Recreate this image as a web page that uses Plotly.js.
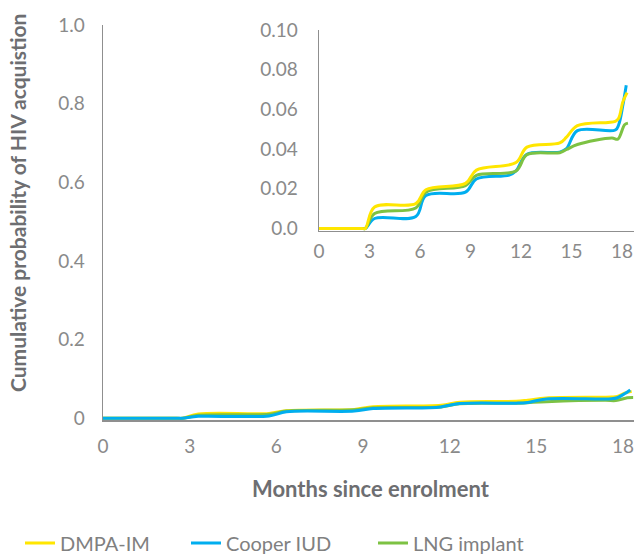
<!DOCTYPE html>
<html>
<head>
<meta charset="utf-8">
<script src="https://cdn.plot.ly/plotly-3.0.1.min.js"></script>
<style>html,body{margin:0;padding:0;background:#fff;}#chart{width:637px;height:554px;}</style>
</head>
<body>
<div id="chart"></div>
<script>
// Months since enrolment and cumulative probability
const monthsDMPA = [0, 2.55, 2.75, 3.3, 5.75, 6.35, 8.7, 9.35, 11.7, 12.35, 14.3, 14.7, 15.35, 17.6, 17.8, 18.05, 18.3];
const probDMPA   = [0, 0, 0, 0.0108, 0.0125, 0.0195, 0.0227, 0.0294, 0.0332, 0.0410, 0.0431, 0.0460, 0.0518, 0.0540, 0.0556, 0.0639, 0.0685];

const monthsIUD = [0, 2.55, 2.75, 3.3, 5.75, 6.35, 8.7, 9.35, 11.3, 11.7, 12.35, 14.3, 14.7, 15.35, 17.6, 17.8, 18.05, 18.25];
const probIUD   = [0, 0, 0, 0.0050, 0.0060, 0.0166, 0.0183, 0.0249, 0.0269, 0.0290, 0.0374, 0.0385, 0.0403, 0.0493, 0.0496, 0.0523, 0.0622, 0.0722];

const monthsLNG = [0, 2.55, 2.75, 3.3, 5.75, 6.35, 8.7, 9.35, 11.7, 12.35, 14.3, 14.7, 15.35, 17.4, 17.75, 18.15, 18.35];
const probLNG   = [0, 0, 0, 0.0075, 0.0103, 0.0183, 0.0216, 0.0268, 0.0290, 0.0372, 0.0382, 0.0398, 0.0423, 0.0456, 0.0450, 0.0523, 0.0531];

const seriesNames = ['DMPA-IM', 'Cooper IUD', 'LNG implant'];
const monthTicks = [0, 3, 6, 9, 12, 15, 18];
const mainYTicks = [0, 0.2, 0.4, 0.6, 0.8, 1.0];
const mainYLabels = ['0', '0.2', '0.4', '0.6', '0.8', '1.0'];
const insetYTicks = [0, 0.02, 0.04, 0.06, 0.08, 0.10];
const insetYLabels = ['0.0', '0.02', '0.04', '0.06', '0.08', '0.10'];

const yTitle = 'Cumulative probability of HIV acquistion';
const xTitle = 'Months since enrolment';

const COLORS = {dmpa: '#FFE600', iud: '#00AEEF', lng: '#7DC243'};
const FONT = 'Lato, "Open Sans", sans-serif';
const tickFont = {family: FONT, size: 19, color: '#8a8a8a'};
const axisColor = '#8f8f8f';

function legendBox(xPx) {
  return {
    orientation: 'h', xref: 'container', yref: 'container',
    x: xPx / 637, y: 1 - 543 / 554, xanchor: 'left', yanchor: 'middle',
    font: {family: FONT, size: 20, color: '#808080'},
    bgcolor: 'rgba(0,0,0,0)', itemclick: false, itemdoubleclick: false
  };
}

function tr(x, y, name, color, xa, ya, show, leg) {
  return {
    x: x, y: y, name: name, type: 'scatter', mode: 'lines',
    line: {color: color, width: 3, shape: 'spline', smoothing: 1},
    xaxis: xa, yaxis: ya, showlegend: show, legend: leg, hoverinfo: 'skip'
  };
}

const data = [
  tr(monthsDMPA, probDMPA, seriesNames[0], COLORS.dmpa, 'x', 'y', true, 'legend'),
  tr(monthsLNG, probLNG, seriesNames[2], COLORS.lng, 'x', 'y', true, 'legend3'),
  tr(monthsIUD, probIUD, seriesNames[1], COLORS.iud, 'x', 'y', true, 'legend2'),
  tr(monthsIUD, probIUD, seriesNames[1], COLORS.iud, 'x2', 'y2', false, 'legend2'),
  tr(monthsLNG, probLNG, seriesNames[2], COLORS.lng, 'x2', 'y2', false, 'legend3'),
  tr(monthsDMPA, probDMPA, seriesNames[0], COLORS.dmpa, 'x2', 'y2', false, 'legend')
];

const baseAxis = {
  showgrid: false, zeroline: false, showline: true,
  linecolor: axisColor, linewidth: 1.5, ticks: '',
  tickfont: tickFont, fixedrange: true
};

const layout = {
  width: 637, height: 554,
  margin: {l: 103, r: 3, t: 25, b: 134},
  paper_bgcolor: '#ffffff', plot_bgcolor: 'rgba(0,0,0,0)',
  font: {family: FONT},
  xaxis: Object.assign({}, baseAxis, {
    domain: [0, 1], range: [0, 18.38],
    tickvals: monthTicks, ticktext: monthTicks.map(String),
    ticklabelstandoff: 9, anchor: 'y'
  }),
  yaxis: Object.assign({}, baseAxis, {
    domain: [0, 1], range: [-0.0043, 1.0],
    tickvals: mainYTicks, ticktext: mainYLabels,
    ticklabelstandoff: 13, anchor: 'x'
  }),
  xaxis2: Object.assign({}, baseAxis, {
    domain: [0.4068, 1], range: [0, 18.71],
    tickvals: monthTicks, ticktext: monthTicks.map(String),
    ticklabelstandoff: 3, anchor: 'y2'
  }),
  yaxis2: Object.assign({}, baseAxis, {
    domain: [0.4785, 0.987], range: [-0.0013, 0.1],
    tickvals: insetYTicks, ticktext: insetYLabels,
    ticklabelstandoff: 16, anchor: 'x2'
  }),
  showlegend: true,
  legend: legendBox(20),
  legend2: legendBox(186),
  legend3: legendBox(373),
  annotations: [
    {text: yTitle, xref: 'paper', yref: 'paper', x: (18 - 103) / 531, y: (420 - 203) / 395,
     xanchor: 'center', yanchor: 'middle', textangle: -90, showarrow: false,
     font: {family: FONT, size: 21, color: '#6d6e71', weight: 'bold'}},
    {text: xTitle, xref: 'paper', yref: 'paper', x: (371 - 103) / 531, y: (420 - 488) / 395,
     xanchor: 'center', yanchor: 'middle', showarrow: false,
     font: {family: FONT, size: 22, color: '#6d6e71', weight: 'bold'}}
  ]
};

Plotly.newPlot('chart', data, layout, {displayModeBar: false, staticPlot: true});
</script>
</body>
</html>
